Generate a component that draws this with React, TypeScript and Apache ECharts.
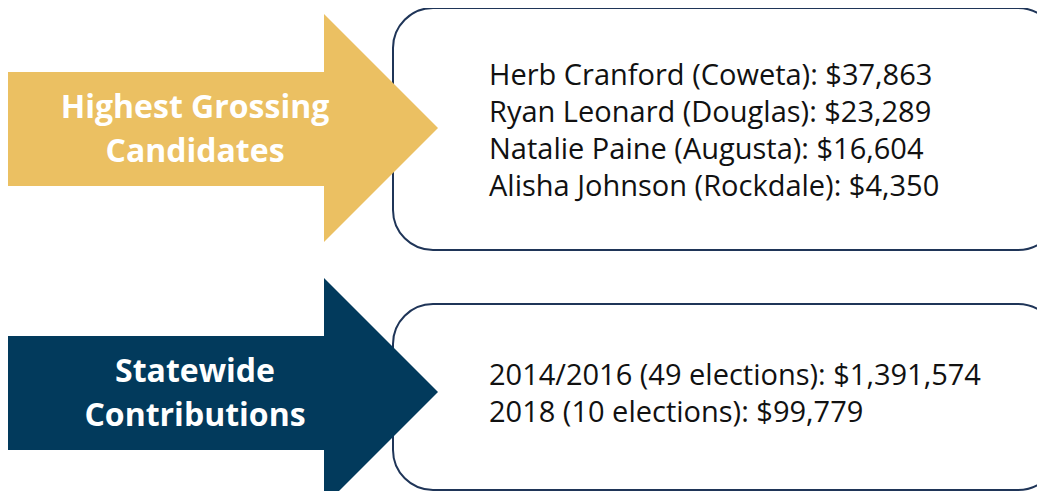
import React, { useEffect, useRef } from "react";
import * as echarts from "echarts";

const arrowLabels: string[][] = [
  ["Highest Grossing", "Candidates"],
  ["Statewide", "Contributions"],
];
const candidateLines: string[] = [
  "Herb Cranford (Coweta): $37,863",
  "Ryan Leonard (Douglas): $23,289",
  "Natalie Paine (Augusta): $16,604",
  "Alisha Johnson (Rockdale): $4,350",
];
const statewideLines: string[] = [
  "2014/2016 (49 elections): $1,391,574",
  "2018 (10 elections): $99,779",
];
const arrowColors: string[] = ["#EBC062", "#023A5C"];

export default function App() {
  const ref = useRef<HTMLDivElement>(null);
  useEffect(() => {
    if (!ref.current) return;
    const chart = echarts.init(ref.current, undefined, { renderer: "svg" });
    const boxes = [
      { y: 8, h: 242, lines: candidateLines, textY: 73 },
      { y: 304, h: 186, lines: statewideLines, textY: 373 },
    ];
    const arrowsCy = [128, 392];
    const elements: any[] = [];
    boxes.forEach((b) => {
      elements.push({
        type: "rect",
        shape: { x: 393, y: b.y, width: 665, height: b.h, r: 40 },
        style: { fill: "#ffffff", stroke: "#1F3558", lineWidth: 2 },
        z: 1,
      });
      b.lines.forEach((t, i) => {
        elements.push({
          type: "text",
          x: 489,
          y: b.textY + i * 37.3,
          style: {
            text: t,
            fill: "#111111",
            font: "400 29px 'Open Sans'",
            textAlign: "left",
            textVerticalAlign: "middle",
          },
          z: 3,
        });
      });
    });
    arrowsCy.forEach((cy, k) => {
      elements.push({
        type: "polygon",
        shape: {
          points: [
            [8, cy - 56],
            [324, cy - 56],
            [324, cy - 114],
            [438, cy],
            [324, cy + 114],
            [324, cy + 58],
            [8, cy + 58],
          ],
        },
        style: { fill: arrowColors[k] },
        z: 2,
      });
      arrowLabels[k].forEach((t, i) => {
        elements.push({
          type: "text",
          x: 195,
          y: cy - 23 + i * 44,
          style: {
            text: t,
            fill: "#ffffff",
            font: "700 32px 'Open Sans'",
            textAlign: "center",
            textVerticalAlign: "middle",
          },
          z: 3,
        });
      });
    });
    chart.setOption({
      animation: false,
      backgroundColor: "#ffffff",
      graphic: { elements },
    });
    return () => chart.dispose();
  }, []);
  return <div ref={ref} style={{ width: 1045, height: 499, margin: -8 }} />;
}
